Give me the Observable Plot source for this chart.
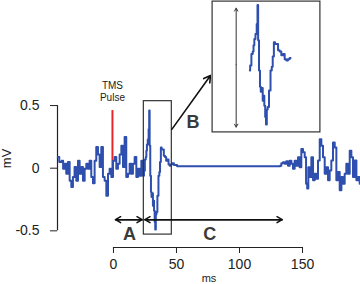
<!DOCTYPE html>
<html><head><meta charset="utf-8">
<script src="https://cdn.jsdelivr.net/npm/d3@7"></script>
<script src="https://cdn.jsdelivr.net/npm/@observablehq/plot@0.6"></script>
<style>
html,body{margin:0;padding:0;background:#fff;}
#wrap{position:relative;width:360px;height:284px;overflow:hidden;}
#main{position:absolute;left:0;top:0;}
#inset{position:absolute;left:211px;top:0;}
</style></head><body>
<div id="wrap"><div id="main"></div><div id="inset"></div></div>
<script>
// ---- data (ms, mV) ----
const preMs = [-44.2,-41.8,-40.5,-39.4,-38.1,-36.8,-35.4,-34.1,-32.8,-31.5,-30.2,-28.8,-27.5,-26.2,-24.9,-23.5,-22.2,-20.9,-19.6,-18.3,-16.9,-15.6,-14.3,-13,-11.6,-10.3,-9,-7.7,-6.3,-5,-3.7,-2.4,-1,0.3,1.6,2.9,4.2,5.6,6.9,8.2,9.5,10.8,12.2,13.5,14.8,16.1,17.5,18.8,20.1,21.4,22.8];
const preMv = [0.09,0.05,0.06,-0.005,0.035,-0.045,0.05,-0.1,-0.15,-0.07,0.01,-0.1,0.06,-0.045,0.01,-0.1,-0.005,0.035,-0.005,0.06,-0.07,-0.12,0.06,0.17,0.11,0.01,0.17,-0.07,-0.1,-0.22,-0.045,-0.005,-0.07,0.06,0.09,-0.005,0.035,0.11,0.18,0.01,0.25,-0.07,-0.045,0.035,-0.045,0.035,0.09,-0.07,-0.005,-0.06,0.06];
const mepMs = [24,24.4,25.4,25.9,26.3,26.8,27.6,28.2,28.5,28.9,29.5,30,30.4,31,31.6,31.9,32.5,32.9,33.4,33.8,34.4,35.3,36.1,36.7,37.2,38,38.5,39.5,40.4,41.3,42.3,43.2,44.2,45.1,46,47];
const mepMv = [-0.06,-0.02,0.07,0.09,0.14,0.19,0.23,0.31,0.46,0.18,-0.06,-0.19,-0.23,-0.2,-0.3,-0.26,-0.34,-0.43,-0.49,-0.37,-0.35,-0.22,-0.06,-0.03,0.05,0.165,0.15,0.15,0.10,0.09,0.06,0.07,0.03,0.02,0.03,0.04];
const flatMs = [49,52,132];
const flatMv = [0.025,0.015,0.015];
const postMs = [132.5,133.9,135.2,136.5,137.8,139.2,140.5,141.8,143.1,144.4,145.8,147.1,148.4,149.7,151.1,152.4,153.2,154.2,155,156.3,157.7,159,160.3,161.6,163,164.3,165.6,166.9,168.3,169.6,170.9,172.2,173.5,174.9,176.2,177.5,178.8,180.2,181.5,182.8,184.1,185.4,186.8,188.1,189.4,190.7,192.1,193.4,194.7,196];
const postMv = [0.02,0.04,0.048,0.035,0.056,0.02,0.06,0.035,-0.005,0.06,0.02,0.088,0.008,0.153,0.127,0.088,-0.124,-0.163,0.008,-0.071,0.088,-0.097,-0.045,-0.084,0.061,0.232,0.18,0.088,-0.045,0.008,-0.097,-0.018,0.061,0.206,0.166,-0.097,-0.031,-0.176,-0.071,-0.124,-0.045,0.035,-0.045,0.14,0.088,-0.071,0.061,-0.097,-0.071,-0.124];

const xTicks = [0, 50, 100, 150];
const yTicks = [-0.5, 0, 0.5];
const tmsPulse = {ms: -0.8, top: 0.46, bottom: -0.07};
const windowB = {x1: 24.1, x2: 46.3, y1: -0.53, y2: 0.535};
const periodA = {x1: 1.6, x2: 22.8};
const periodC = {x1: 24.9, x2: 133.9};

// ---- build tables ----
const zip = (xs, ys) => xs.map((x, i) => ({ms: x, mv: ys[i]}));
const mep = zip(mepMs, mepMv);
const trace = [...zip(preMs, preMv), ...mep, ...zip(flatMs, flatMv), ...zip(postMs, postMv)];

const xDomain = [-44.4, 196];
const yDomain = [-0.633, 0.633];
const blue = "#2f4fae";
const ink = "#222";
const letter = "#3a3a3a";
const font = "'Liberation Sans', Arial, Helvetica, sans-serif";
const arrowRow = -0.411;

const mainPlot = Plot.plot({
  width: 360, height: 284,
  marginLeft: 57, marginRight: 0, marginTop: 88.4, marginBottom: 37,
  x: {domain: xDomain},
  y: {domain: yDomain},
  style: {fontFamily: font, color: ink, background: "transparent", overflow: "visible"},
  marks: [
    // y axis
    Plot.ruleX([xDomain[0]], {y1: yTicks[0], y2: yTicks[yTicks.length - 1], stroke: ink, strokeWidth: 1.2}),
    Plot.axisY(yTicks, {tickSize: 7, tickPadding: 11, fontSize: 14, label: null,
      tickFormat: d => d === 0 ? "0" : String(d)}),
    Plot.text(["mV"], {frameAnchor: "left", y: [0], rotate: -90, dx: -51, fontSize: 13, fill: ink}),
    // x axis
    Plot.ruleY([yDomain[0]], {x1: xTicks[0], x2: xTicks[xTicks.length - 1], stroke: ink, strokeWidth: 1.2}),
    Plot.axisX(xTicks, {tickSize: 6, tickPadding: 6, fontSize: 14, label: null}),
    Plot.text(["ms"], {frameAnchor: "bottom", lineAnchor: "middle", dy: 30.5, fontSize: 11, fill: ink}),
    // TMS pulse
    Plot.ruleX([tmsPulse.ms], {y1: tmsPulse.bottom, y2: tmsPulse.top, stroke: "#e8262a", strokeWidth: 2}),
    Plot.text(["TMS\nPulse"], {x: [tmsPulse.ms], y: [0.612], fontSize: 10, lineHeight: 1.15, fill: ink}),
    // trace
    Plot.line(trace, {x: "ms", y: "mv", stroke: blue, strokeWidth: 2, curve: "step"}),
    // window B box and pointer to inset
    Plot.rect([windowB], {x1: "x1", x2: "x2", y1: "y1", y2: "y2", fill: "none", stroke: "#333", strokeWidth: 1.2}),
    Plot.arrow([0], {x1: windowB.x2, y1: 0.31, x2: 77, y2: 0.74, stroke: "#111", strokeWidth: 1.6, headLength: 7}),
    Plot.text(["B"], {x: [63.1], y: [0.367], fontSize: 18, fontWeight: "bold", fill: letter}),
    // A and C periods
    Plot.arrow([0], {x1: periodA.x1, x2: periodA.x2, y1: arrowRow, y2: arrowRow, stroke: "#111", strokeWidth: 1.5, headLength: 6}),
    Plot.arrow([0], {x1: periodA.x2, x2: periodA.x1, y1: arrowRow, y2: arrowRow, stroke: "#111", strokeWidth: 1.5, headLength: 6}),
    Plot.arrow([0], {x1: periodC.x1, x2: periodC.x2, y1: arrowRow, y2: arrowRow, stroke: "#111", strokeWidth: 1.5, headLength: 6}),
    Plot.arrow([0], {x1: periodC.x2, x2: periodC.x1, y1: arrowRow, y2: arrowRow, stroke: "#111", strokeWidth: 1.5, headLength: 6}),
    Plot.text(["A"], {x: [12.7], y: [-0.524], fontSize: 18, fontWeight: "bold", fill: letter}),
    Plot.text(["C"], {x: [76.4], y: [-0.525], fontSize: 18, fontWeight: "bold", fill: letter})
  ]
});
document.getElementById("main").appendChild(mainPlot);

// ---- inset: magnified MEP ----
const mepMax = d3.max(mepMv), mepMin = d3.min(mepMv);
const ampX = 16.3;
const insetPlot = Plot.plot({
  width: 109, height: 132, margin: 0,
  x: {domain: [2.36, 63.94], axis: null},
  y: {domain: [-0.553, 0.496], axis: null},
  style: {background: "#fff", overflow: "visible"},
  marks: [
    Plot.frame({stroke: "#333", strokeWidth: 1.2, inset: 0.6}),
    Plot.arrow([0], {x1: ampX, x2: ampX, y1: (mepMax + mepMin) / 2, y2: mepMax - 0.025, stroke: "#333", strokeWidth: 1, headLength: 5}),
    Plot.arrow([0], {x1: ampX, x2: ampX, y1: (mepMax + mepMin) / 2, y2: mepMin - 0.02, stroke: "#333", strokeWidth: 1, headLength: 5}),
    Plot.line(mep, {x: "ms", y: "mv", stroke: blue, strokeWidth: 2, curve: "step"})
  ]
});
document.getElementById("inset").appendChild(insetPlot);
</script>
</body></html>
